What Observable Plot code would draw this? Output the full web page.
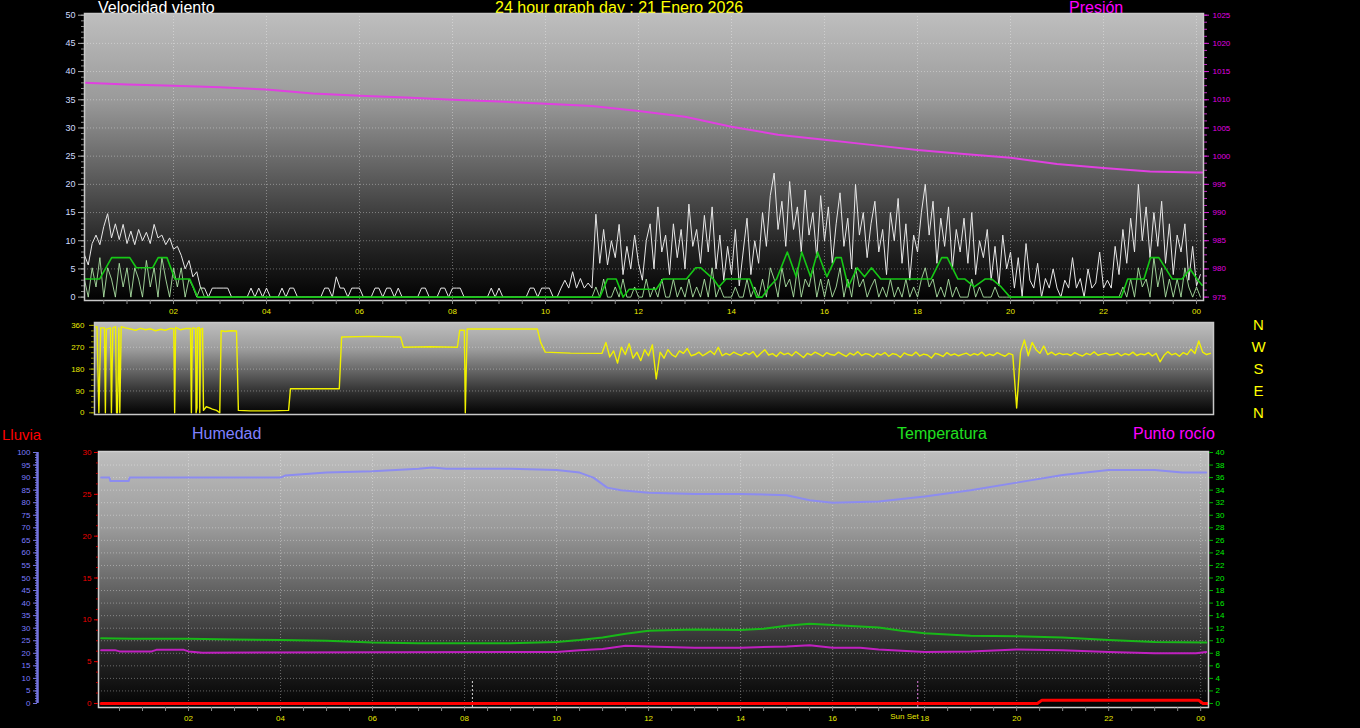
<!DOCTYPE html>
<html><head><meta charset="utf-8">
<script src="https://cdn.jsdelivr.net/npm/d3@7"></script>
<script src="https://cdn.jsdelivr.net/npm/@observablehq/plot@0.6"></script>
<style>
html,body{margin:0;padding:0;background:#000;}
#wrap{position:relative;width:1360px;height:728px;overflow:hidden;background:#000;font-family:"Liberation Sans",Arial,sans-serif;}
.t{position:absolute;white-space:nowrap;font-size:16px;line-height:16px;}
.p{position:absolute;left:0;}
</style></head><body><div id="wrap"></div>
<script>
// ---------------- DATA ----------------
const chartTitle = "24 hour graph day : 21 Enero 2026";
// wind (5-minute samples starting 00:05)
const windStartMinute = 5, windStepMinutes = 5;
const gustValues = [
 7.5,5.7,9.5,11,9.3,12.5,14.8,10.5,13,10.2,12.9,9.5,
 11.7,9.3,12,10,11.5,9.5,12.9,10.5,11,9.3,10.5,8.5,
 9,7.4,5,6.5,3.6,4.5,1.6,1.6,0,1.6,1.6,1.6,
 1.6,1.6,0,0,0,0,0,1.6,0,1.6,0,1.6,
 0,0,0,1.6,0,1.6,1.6,0,0,0,0,0,
 0,0,1.6,1.6,0,3.6,1.6,1.6,0,1.6,1.6,1.6,
 0,0,0,1.6,1.6,0,1.6,1.6,0,1.6,0,0,
 0,0,0,1.6,1.6,0,0,0,1.6,1.6,0,1.6,
 1.6,1.6,0,0,0,0,0,0,0,1.6,0,1.6,
 0,0,0,0,0,0,0,1.6,1.6,0,1.6,1.6,
 1.6,0,0,1.6,3,1.6,4.5,1.6,3.3,1.6,2.5,1.6,
 14.7,6,12,5.7,10,7,12.9,4,9,5,11,6,
 3,10,13,5,16,8,11,4,13,7,12,5,
 16.5,9,12,6,14.5,8,16,5,11,3,9,4,
 12,2,8,14,4,10,6,15,9,18,22,12,
 17,9,20.5,12,16,8,19,11,15,7,18,10,
 16,6,13,18.5,9,14,5,20,11,15,7,13,
 17,8,12,4,15,10,17.5,6,13,3,11,8,
 15,20,11,17,6,14,9,16,5,12,8,14,
 6,15,4,10,7,12,3,9,2,11,5,8,
 1.6,7,0,9.5,3,1.6,6,0,3.3,1.6,5,1.6,
 0,3,1.6,7,1.6,3.3,0,5,1.6,2.5,8,1.6,
 3,1.6,9,4,12,6,14,8,20,10,16,7,
 15,9,17,6,13,4,11,8,13,3,9,2,
 4];
const speedValues = [
 3.2,0,5.2,1.8,7,0,5.2,3.2,0,6,1.8,5.2,
 0,5.2,3.2,0,6.5,1.8,5.2,0,7,3.2,0,5.2,
 1.8,5.2,0,3.2,1.8,0,1.8,0,0,0,0,0,
 0,0,0,0,0,0,0,0,0,0,0,0,
 0,0,0,0,0,0,0,0,0,0,0,0,
 0,0,0,0,0,0,0,0,0,0,0,0,
 0,0,0,0,0,0,0,0,0,0,0,0,
 0,0,0,0,0,0,0,0,0,0,0,0,
 0,0,0,0,0,0,0,0,0,0,0,0,
 0,0,0,0,0,0,0,0,0,0,0,0,
 0,0,0,0,0,0,0,0,0,0,0,0,
 1.8,0,3.2,0,0,1.8,0,3.2,0,0,1.8,0,
 0,3.2,0,1.8,0,3.2,0,0,3.2,0,1.8,0,
 3.2,0,1.8,0,3.2,0,5.2,0,1.8,0,0,0,
 1.8,0,0,3.2,0,1.8,0,3.2,0,5.2,3.2,0,
 5.2,1.8,3.2,0,5.2,0,3.2,1.8,5.2,0,3.2,0,
 3.2,0,1.8,5.2,0,3.2,0,5.2,1.8,3.2,0,1.8,
 3.2,0,1.8,0,3.2,0,1.8,0,3.2,0,1.8,0,
 3.2,5.2,1.8,3.2,0,1.8,0,3.2,0,1.8,0,0,
 0,3.2,0,1.8,0,0,0,1.8,0,0,0,0,
 0,0,0,0,0,0,0,0,0,0,0,0,
 0,0,0,0,0,0,0,0,0,0,0,0,
 0,0,0,0,1.8,0,3.2,0,5.2,1.8,3.2,0,
 7,1.8,5.2,0,3.2,0,3.2,0,5.2,1.8,0,1.8,
 0];
// average wind [hour, value]
const avgWind = [[0.08,3.2],[0.41,3.2],[0.67,7],[1.06,7],[1.2,5.2],[1.55,5.2],[1.67,7],[1.86,7],[2.03,3.2],[2.35,3.2],[2.52,0],
 [11.17,0],[11.33,3.2],[11.52,3.2],[11.67,0],[11.8,1.4],[12.38,1.4],[12.53,3.2],[13.03,3.2],[13.23,5.2],[13.34,5.2],[13.61,3.2],[13.73,1.8],[13.88,3.2],[14.39,3.2],[14.54,0],[14.66,0],[14.81,1.8],[14.97,3.2],
 [15.2,8],[15.39,3.6],[15.51,8],[15.7,3.6],[15.85,8],[16.05,3.6],[16.24,7],[16.36,7],[16.51,1.8],[16.7,5.2],[16.86,3.6],[17.01,5.2],[17.21,3.2],[18.29,3.2],[18.52,7],[18.64,7],[18.87,3.2],[19.02,3.2],[19.22,1.8],[19.45,3.2],[19.6,3.2],[19.8,1.8],[19.99,0],
 [22.38,0],[22.52,3.2],[22.87,3.2],[23.01,7],[23.19,7],[23.48,3.2],[23.69,3.2],[23.86,5],[24.01,3.2],[24.12,2.1]];
// pressure (hPa)
const pressureBase = 975;
const pressureHours = [0.09,1,2,3,4,5,6,7,8,9,10,11,12,13,14,15,16,17,18,19,20,21,22,23,24,24.14];
const pressureHpa = [1013.0,1012.7,1012.5,1012.2,1011.8,1011.1,1010.7,1010.4,1010.0,1009.7,1009.3,1008.9,1008.0,1007.0,1005.2,1003.8,1002.9,1002.0,1001.1,1000.4,999.7,998.6,997.9,997.3,997.1,997.1];
// wind direction: early irregular readings [hour, degrees]
const dirEarly = [[0.09,352],[0.14,355],[0.18,0],[0.22,350],[0.3,350],[0.32,0],[0.34,345],[0.43,350],[0.45,0],[0.48,350],[0.54,355],[0.56,0],[0.58,0],[0.61,350],[0.63,0],[0.66,355],
 [0.75,350],[0.86,345],[0.97,340],[1.08,348],[1.18,342],[1.29,346],[1.4,338],[1.51,344],[1.61,340],[1.72,348],[1.79,346],[1.81,0],[1.83,352],[1.94,342],[2.04,347],[2.15,348],[2.17,0],[2.19,350],[2.26,348],[2.27,0],[2.29,20],[2.3,350],[2.34,352],[2.35,0],[2.37,345],[2.41,348],[2.43,10],[2.49,25],[2.56,20],[2.62,15],[2.71,10],[2.78,0],
 [2.81,338],[2.9,335],[3.01,338],[3.14,337],[3.18,10],[3.44,8],[3.87,8],[4.26,10],[4.3,99],[4.84,99],[5.35,99],[5.4,312],[6.02,315],[6.67,312],[6.73,270],[7.31,272],[7.89,270],[7.94,340],[8.04,340],[8.06,0],[8.1,345],[8.82,345],[9.61,345],[9.68,290],[9.78,250],[10.32,246],[10.95,245]];
// wind direction: 5-minute readings from 11:00
const dirLateStartHour = 11;
const dirLate = [
 245,290,230,255,205,270,240,285,225,250,215,260,
 235,280,140,250,225,260,240,230,255,245,265,235,
 240,250,235,245,255,240,270,235,245,238,250,242,
 236,248,240,252,230,245,260,238,244,232,250,240,
 246,235,252,240,228,245,238,250,242,233,248,240,
 237,250,241,232,246,238,252,236,244,240,230,245,
 238,248,233,244,240,229,247,239,236,250,234,242,
 238,226,245,240,232,248,237,243,235,241,246,236,
 244,238,250,234,242,236,248,240,233,245,239,20,
 250,300,235,290,260,245,275,240,250,238,246,240,
 243,236,248,240,234,245,239,251,237,242,246,238,
 240,247,235,244,238,250,236,243,239,248,234,245,
 210,236,252,239,245,233,248,240,262,244,296,250,
 240,245];
const compassLabels = [{deg:360,label:"N"},{deg:270,label:"W"},{deg:180,label:"S"},{deg:90,label:"E"},{deg:0,label:"N"}];
// bottom panel [hour, value]
const humidity = [[0.1,90],[0.28,90],[0.3,88.6],[0.7,88.6],[0.72,90],[4,90],[4.1,90.8],[5,92],[6,92.5],[7,93.5],[7.3,94],[7.6,93.5],[9,93.5],[10,93],[10.5,92],[10.8,90],[11.1,86],[11.4,85],[12,84],[13,83.5],[14,83.5],[15,83],[15.5,81],[16,80],[17,80.5],[18,82.5],[19,85],[20,88],[21,91],[22,93],[23,93],[23.6,92],[24.12,92]];
const temperature = [[0.1,10.4],[0.8,10.3],[2,10.3],[3,10.2],[4,10.1],[5,10],[6,9.7],[7,9.6],[9,9.6],[10,9.8],[10.5,10.1],[11,10.5],[11.5,11.1],[12,11.6],[13,11.8],[14,11.7],[14.5,11.9],[15,12.4],[15.5,12.7],[16,12.5],[16.5,12.3],[17,12.1],[17.5,11.6],[18,11.2],[19,10.8],[20,10.7],[21,10.5],[22,10.1],[23,9.8],[24.12,9.7]];
const dewPoint = [[0.1,8.5],[0.4,8.5],[0.5,8.3],[1.2,8.3],[1.3,8.55],[1.9,8.55],[2,8.3],[2.3,8.1],[10,8.2],[10.5,8.5],[11,8.7],[11.5,9.2],[12,9.1],[13,8.9],[14,8.9],[15,9.1],[15.5,9.3],[16,8.9],[16.6,8.9],[17,8.6],[18,8.2],[19,8.3],[20,8.6],[21,8.5],[22,8.2],[23,8.0],[23.9,8.0],[24.12,8.2]];
const rain = [[0.1,0],[20.45,0],[20.55,0.4],[23.95,0.4],[24.05,0],[24.15,0]];
const sunEvents = [{h:8.17,label:"",kind:"rise"},{h:17.85,label:"Sun Set",kind:"set"}];
const windTicks = [0,5,10,15,20,25,30,35,40,45,50];
const dirTicks = [0,90,180,270,360];
const rainTicks = [0,5,10,15,20,25,30];
const humTicks = [0,5,10,15,20,25,30,35,40,45,50,55,60,65,70,75,80,85,90,95,100];
const tempTicks = [0,2,4,6,8,10,12,14,16,18,20,22,24,26,28,30,32,34,36,38,40];
const hourTicks = [2,4,6,8,10,12,14,16,18,20,22,24];

// ---------------- HELPERS ----------------
const FONT = '"Liberation Sans", Arial, sans-serif';
const wrap = document.getElementById("wrap");
const hourLabel = d => d === 24 ? "00" : String(d).padStart(2, "0");
const halfHours = d3.range(0.5, 24.01, 0.5);
function addGradient(svg, id, stops) {
  const ns = "http://www.w3.org/2000/svg";
  const defs = document.createElementNS(ns, "defs");
  const g = document.createElementNS(ns, "linearGradient");
  g.setAttribute("id", id); g.setAttribute("x1", "0"); g.setAttribute("y1", "0"); g.setAttribute("x2", "0"); g.setAttribute("y2", "1");
  for (const [o, c] of stops) { const s = document.createElementNS(ns, "stop"); s.setAttribute("offset", o); s.setAttribute("stop-color", c); g.appendChild(s); }
  defs.appendChild(g); svg.insertBefore(defs, svg.firstChild);
}
const grad = [["0", "#bebebe"], ["0.3", "#9a9a9a"], ["0.55", "#606060"], ["0.8", "#262626"], ["1", "#020202"]];
function title(text, left, top, color, size) {
  const d = document.createElement("div"); d.className = "t"; d.textContent = text;
  d.style.left = left + "px"; d.style.top = top + "px"; d.style.color = color;
  if (size) { d.style.fontSize = size + "px"; }
  wrap.appendChild(d);
}
function place(svg, top) { svg.classList.add("p"); svg.style.top = top + "px"; wrap.appendChild(svg); }
const gridStyle = {stroke: "#ffffff", strokeOpacity: 0.35, strokeDasharray: "1,2"};
const baseStyle = {background: "transparent", fontFamily: FONT, fontSize: "8px", overflow: "visible"};

// titles (behind the plots)
title("Velocidad viento", 98, 0, "#ffffff");
title(chartTitle, 495, 0, "#ffff00");
title("Presión", 1069, 0, "#ff00ff");
title("Lluvia", 2, 427, "#ff0000", 15);
title("Humedad", 192, 426, "#8080ff");
title("Temperatura", 897, 426, "#20e020");
title("Punto rocío", 1133, 426, "#ff00ff");

// ---------------- TOP: wind + pressure ----------------
const windRows = (vals) => vals.map((v, i) => ({h: (windStartMinute + i * windStepMinutes) / 60, v}));
const gustData = windRows(gustValues), speedData = windRows(speedValues);
const pressureData = pressureHours.map((h, i) => ({h, p: pressureHpa[i]}));
const topXDomain = [0.086, 24.15];
const topPlot = Plot.plot({
  width: 1360, height: 320, marginTop: 13, marginBottom: 20, marginLeft: 84, marginRight: 157,
  style: baseStyle,
  x: {domain: topXDomain, label: null},
  y: {domain: [-0.6, 50.3], label: null},
  marks: [
    Plot.frame({fill: "url(#gTop)"}),
    Plot.gridY(windTicks.slice(1, -1), gridStyle),
    Plot.gridX(hourTicks, gridStyle),
    Plot.line(gustData, {x: "h", y: "v", stroke: "#e8e8e8", strokeWidth: 1, clip: true}),
    Plot.line(speedData, {x: "h", y: "v", stroke: "#b4ecac", strokeWidth: 1, strokeOpacity: 0.85, clip: true}),
    Plot.line(avgWind, {x: d => d[0], y: d => d[1], stroke: "#16c816", strokeWidth: 1.6, clip: true}),
    Plot.line(pressureData, {x: "h", y: d => d.p - pressureBase, stroke: "#e040e0", strokeWidth: 2, clip: true}),
    Plot.frame({stroke: "#c8c8c8", strokeWidth: 1.5}),
    Plot.axisY(d3.range(0, 50.01, 1), {anchor: "left", tickSize: 3, tickFormat: () => "", stroke: "#909090"}),
    Plot.axisY(windTicks, {anchor: "left", tickSize: 6, tickPadding: 3, stroke: "#a8a8a8", fill: "#cfdcff", fontSize: 9}),
    Plot.axisY(d3.range(0, 50.01, 1.25), {anchor: "right", tickSize: 3, tickFormat: () => "", stroke: "#c030c0"}),
    Plot.axisY(windTicks, {anchor: "right", tickSize: 5, tickPadding: 4, tickFormat: d => String(d + pressureBase), stroke: "#d020d0", fill: "#e000e0", fontSize: 8}),
    Plot.axisX(halfHours, {anchor: "bottom", tickSize: 4, tickFormat: () => "", stroke: "#8a8a8a"}),
    Plot.axisX(hourTicks, {anchor: "bottom", tickSize: 0, tickPadding: 8, tickFormat: hourLabel, fill: "#e8e800", fontSize: 8})
  ]
});
addGradient(topPlot, "gTop", grad);
place(topPlot, 0);

// ---------------- MIDDLE: wind direction ----------------
const dirData = dirEarly.map(([h, d]) => ({h, d})).concat(dirLate.map((d, i) => ({h: dirLateStartHour + i * 5 / 60, d})));
const midPlot = Plot.plot({
  width: 1360, height: 120, marginTop: 22, marginBottom: 6, marginLeft: 94, marginRight: 147,
  style: baseStyle,
  x: {domain: topXDomain, axis: null, label: null},
  y: {domain: [-7, 372], label: null},
  marks: [
    Plot.frame({fill: "url(#gMid)"}),
    Plot.gridY([90, 180, 270], gridStyle),
    Plot.line(dirData, {x: "h", y: "d", stroke: "#f0f000", strokeWidth: 1.4, clip: true}),
    Plot.frame({stroke: "#c8c8c8", strokeWidth: 1.5}),
    Plot.axisY(d3.range(0, 360.1, 22.5), {anchor: "left", tickSize: 3, tickFormat: () => "", stroke: "#8a8a00"}),
    Plot.axisY(dirTicks, {anchor: "left", tickSize: 5, tickPadding: 5, stroke: "#a0a000", fill: "#e8e800", fontSize: 8}),
    Plot.text(compassLabels, {y: "deg", text: "label", frameAnchor: "right", dx: 45, textAnchor: "middle", fill: "#ffff00", fontSize: 15, fontFamily: FONT})
  ]
});
addGradient(midPlot, "gMid", grad);
place(midPlot, 300);

// ---------------- BOTTOM: rain, humidity, temperature, dew point ----------------
const humToTemp = 40 / 100, rainToTemp = 40 / 30;
const botXDomain = [0.043, 24.17];
const botYDomain = [-0.64, 40.16];
const sunMarkerTop = 3.7;
const pairs = a => a.map(([h, v]) => ({h, v}));
const botPlot = Plot.plot({
  width: 1360, height: 308, marginTop: 31, marginBottom: 21, marginLeft: 98, marginRight: 152,
  style: baseStyle,
  x: {domain: botXDomain, label: null},
  y: {domain: botYDomain, label: null},
  marks: [
    Plot.frame({fill: "url(#gBot)"}),
    Plot.gridY(tempTicks.slice(1, -1), gridStyle),
    Plot.gridX(hourTicks, gridStyle),
    Plot.ruleX(sunEvents, {x: "h", y1: botYDomain[0], y2: sunMarkerTop, stroke: d => d.kind === "set" ? "#e080e0" : "#d8d8d8", strokeDasharray: "2,2", strokeWidth: 1}),
    Plot.line(pairs(humidity), {x: "h", y: d => d.v * humToTemp, stroke: "#8c8cf0", strokeWidth: 2, clip: true}),
    Plot.line(pairs(temperature), {x: "h", y: "v", stroke: "#18b818", strokeWidth: 2, clip: true}),
    Plot.line(pairs(dewPoint), {x: "h", y: "v", stroke: "#c020c0", strokeWidth: 2, clip: true}),
    Plot.line(pairs(rain), {x: "h", y: d => d.v * rainToTemp, stroke: "#ff0000", strokeWidth: 3, clip: true}),
    Plot.frame({stroke: "#d0d0d0", strokeWidth: 1.5}),
    // temperature axis (right)
    Plot.axisY(tempTicks, {anchor: "right", tickSize: 4, tickPadding: 3, stroke: "#00b000", fill: "#00ee00", fontSize: 8}),
    // rain axis (left, red)
    Plot.axisY(d3.range(0, 30.01, 1.25).map(r => r * rainToTemp), {anchor: "left", tickSize: 2, tickFormat: () => "", stroke: "#c00000"}),
    Plot.axisY(rainTicks.map(r => r * rainToTemp), {anchor: "left", tickSize: 4, tickPadding: 3, tickFormat: d => String(Math.round(d / rainToTemp)), stroke: "#e00000", fill: "#ee0000", fontSize: 8}),
    // humidity axis (far left)
    Plot.ruleX([botXDomain[0]], {y1: 0, y2: 100 * humToTemp, dx: -61, stroke: "#7474e0", strokeWidth: 2.5}),
    Plot.axisY(d3.range(0, 100.1, 1).map(v => v * humToTemp), {anchor: "left", dx: -61, tickSize: 2, tickFormat: () => "", stroke: "#7474e0"}),
    Plot.axisY(humTicks.map(v => v * humToTemp), {anchor: "left", dx: -61, tickSize: 4, tickPadding: 3, tickFormat: d => String(Math.round(d / humToTemp)), stroke: "#7474e0", fill: "#7c7cff", fontSize: 8}),
    Plot.axisX(halfHours, {anchor: "bottom", tickSize: 4, tickFormat: () => "", stroke: "#8a8a8a"}),
    Plot.axisX(hourTicks, {anchor: "bottom", tickSize: 0, tickPadding: 8, tickFormat: hourLabel, fill: "#e8e800", fontSize: 8}),
    Plot.text(sunEvents.filter(d => d.label), {x: "h", text: "label", frameAnchor: "bottom", dy: 11, dx: 1, textAnchor: "end", fill: "#e8e800", fontSize: 8})
  ]
});
addGradient(botPlot, "gBot", grad);
place(botPlot, 420);
</script></body></html>
